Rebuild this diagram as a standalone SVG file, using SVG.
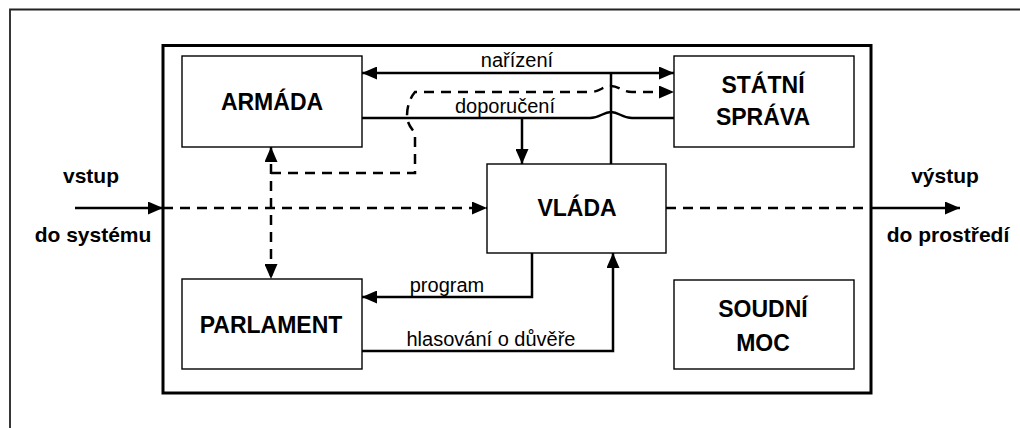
<svg xmlns="http://www.w3.org/2000/svg" width="1020" height="428" viewBox="0 0 1020 428">
<style>
.box{fill:#fff;stroke:#000;stroke-width:1.4}
.main{fill:#fff;stroke:#000;stroke-width:3}
.t{font-family:"Liberation Sans",Arial,sans-serif;font-weight:bold;font-size:23px;text-anchor:middle;fill:#000}
.io{font-family:"Liberation Sans",Arial,sans-serif;font-weight:bold;font-size:21px;text-anchor:middle;fill:#000}
.lb{font-family:"Liberation Sans",Arial,sans-serif;font-size:20px;text-anchor:middle;fill:#000}
.ln{fill:none;stroke:#000;stroke-width:2.5}
.ds{fill:none;stroke:#000;stroke-width:2.5;stroke-dasharray:10 7}
</style>
<defs>
<marker id="ah" markerUnits="userSpaceOnUse" markerWidth="15" markerHeight="13" refX="15" refY="6.5" orient="auto-start-reverse">
<path d="M0,0 L15,6.5 L0,13 z" fill="#000"/>
</marker>
</defs>
<rect width="1020" height="428" fill="#fff"/>
<path d="M10,428 L10,9.5 L1020,9.5" fill="none" stroke="#222" stroke-width="1.8"/>
<rect class="main" x="163" y="45.5" width="708" height="347.5"/>
<g id="armada"><rect class="box" x="182" y="56" width="180" height="91"/><text class="t" x="272" y="110">ARMÁDA</text></g>
<g id="statni-sprava"><rect class="box" x="674" y="56" width="180" height="91"/><text class="t" x="763" y="92.5">STÁTNÍ</text><text class="t" x="763" y="125">SPRÁVA</text></g>
<g id="vlada"><rect class="box" x="487" y="164" width="179" height="89"/><text class="t" x="577" y="216">VLÁDA</text></g>
<g id="parlament"><rect class="box" x="182" y="279" width="180" height="90"/><text class="t" x="271" y="333">PARLAMENT</text></g>
<g id="soudni-moc"><rect class="box" x="674" y="280" width="180" height="89"/><text class="t" x="763" y="317">SOUDNÍ</text><text class="t" x="763" y="350.5">MOC</text></g>
<g id="vstup"><text class="io" x="91" y="183">vstup</text><text class="io" x="93" y="242">do systému</text></g>
<g id="vystup"><text class="io" x="945" y="183">výstup</text><text class="io" x="948" y="242">do prostředí</text></g>
<g id="connectors">
<path class="ln" d="M362,73 L674,73" marker-start="url(#ah)" marker-end="url(#ah)"/>
<path class="ln" d="M611,73 L611,164"/>
<path class="ln" d="M362,118 L590,118 C600,118 603,112 611,112 C619,112 622,118 632,118 L674,118"/>
<path class="ln" d="M522,118 L522,164" marker-end="url(#ah)"/>
<path class="ds" d="M271,147 L271,279" marker-start="url(#ah)" marker-end="url(#ah)"/>
<path class="ds" d="M271,173 L415,173 L415,133 C409,126 407,121 407,116 C407,106 410,98 415,92 L590,92 C600,92 603,86 611,86 C619,86 622,92 632,92 L674,92" marker-end="url(#ah)"/>
<path class="ln" d="M75,208 L163,208" marker-end="url(#ah)"/>
<path class="ds" d="M163,208 L487,208" marker-end="url(#ah)"/>
<path class="ds" d="M666,208 L871,208"/>
<path class="ln" d="M871,208 L960,208" marker-end="url(#ah)"/>
<path class="ln" d="M532,253 L532,297 L362,297" marker-end="url(#ah)"/>
<path class="ln" d="M362,351 L613,351 L613,253" marker-end="url(#ah)"/>
<text class="lb" x="517" y="67">nařízení</text>
<text class="lb" x="505" y="113">doporučení</text>
<text class="lb" x="447" y="292">program</text>
<text class="lb" x="491" y="346">hlasování o důvěře</text>
</g>
</svg>
